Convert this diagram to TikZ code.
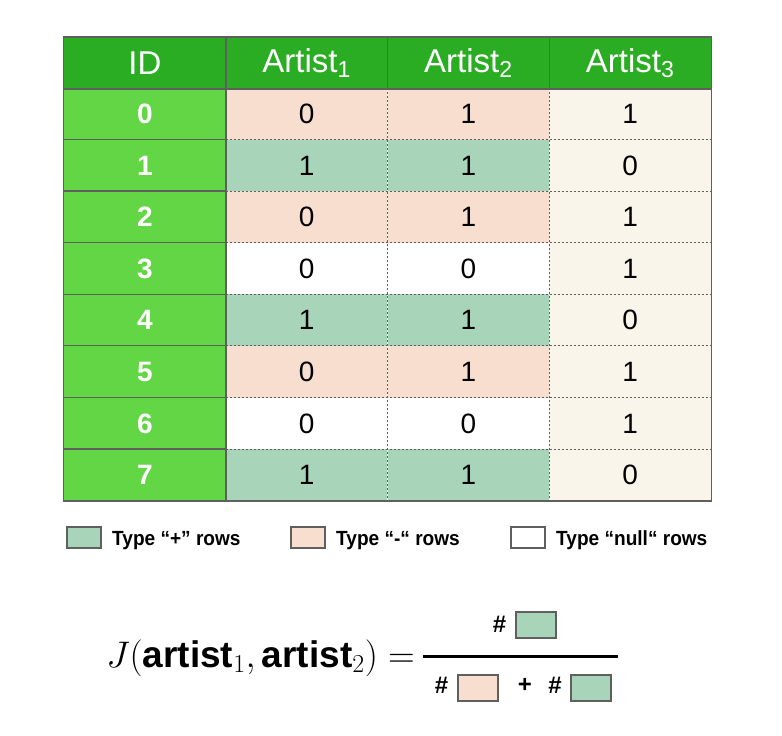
\documentclass[tikz,border=0pt]{standalone}
\usepackage{fix-cm}
\usepackage{fontspec}
\setmainfont{Liberation Sans}
\newfontfamily\legfont[FakeStretch=0.93]{Liberation Sans}
\usetikzlibrary{positioning}
\definecolor{headgreen}{RGB}{42,173,34}
\definecolor{idgreen}{RGB}{99,214,70}
\definecolor{plusrow}{RGB}{168,213,186}
\definecolor{minusrow}{RGB}{248,222,206}
\definecolor{nullrow}{RGB}{255,255,255}
\definecolor{creamcol}{RGB}{250,245,234}
\definecolor{gridgray}{RGB}{95,95,95}
\tikzset{
  cell/.style={minimum width=161.75pt,minimum height=51.6pt,inner sep=0pt,
    font=\fontsize{28}{30}\selectfont},
  head/.style={cell,fill=headgreen,text=white,font=\fontsize{33}{36}\selectfont},
  idcell/.style={cell,fill=idgreen,text=white,font=\fontsize{28}{30}\selectfont\bfseries},
  pcell/.style={cell,fill=plusrow},
  ncell/.style={cell,fill=minusrow},
  zcell/.style={cell,fill=nullrow},
  ccell/.style={cell,fill=creamcol},
  solidline/.style={draw=gridgray,line width=1.2pt},
  dashline/.style={draw=gridgray,line width=0.7pt,dash pattern=on 2pt off 2pt},
  legbox/.style={draw=gridgray,line width=2pt,minimum width=34pt,minimum height=21pt,inner sep=0pt},
  legtext/.style={font=\fontsize{20.5}{22}\selectfont\legfont\bfseries,anchor=base west,inner sep=0pt},
  hashbox/.style={draw=gridgray,line width=2pt,minimum width=40pt,minimum height=26pt,inner sep=0pt},
  hashtext/.style={font=\fontsize{24}{26}\selectfont\bfseries,inner sep=0pt}
}
\begin{document}
\begin{tikzpicture}[x=1pt,y=-1pt]
  \useasboundingbox (0,0) rectangle (782,736);
  % header
  \node[head] (h0) at (144.9,63) {ID};
  \node[head] (h1) at (306.6,63) {Artist\textsubscript{1}};
  \node[head] (h2) at (468.4,63) {Artist\textsubscript{2}};
  \node[head] (h3) at (630.1,63) {Artist\textsubscript{3}};
  % rows
  \node[idcell] (r0c0) at (144.9,113.8) {0};
  \node[ncell] (r0c1) at (306.6,113.8) {0};
  \node[ncell] (r0c2) at (468.4,113.8) {1};
  \node[ccell] (r0c3) at (630.1,113.8) {1};
  \node[idcell] (r1c0) at (144.9,165.4) {1};
  \node[pcell] (r1c1) at (306.6,165.4) {1};
  \node[pcell] (r1c2) at (468.4,165.4) {1};
  \node[ccell] (r1c3) at (630.1,165.4) {0};
  \node[idcell] (r2c0) at (144.9,217) {2};
  \node[ncell] (r2c1) at (306.6,217) {0};
  \node[ncell] (r2c2) at (468.4,217) {1};
  \node[ccell] (r2c3) at (630.1,217) {1};
  \node[idcell] (r3c0) at (144.9,268.6) {3};
  \node[zcell] (r3c1) at (306.6,268.6) {0};
  \node[zcell] (r3c2) at (468.4,268.6) {0};
  \node[ccell] (r3c3) at (630.1,268.6) {1};
  \node[idcell] (r4c0) at (144.9,320.2) {4};
  \node[pcell] (r4c1) at (306.6,320.2) {1};
  \node[pcell] (r4c2) at (468.4,320.2) {1};
  \node[ccell] (r4c3) at (630.1,320.2) {0};
  \node[idcell] (r5c0) at (144.9,371.8) {5};
  \node[ncell] (r5c1) at (306.6,371.8) {0};
  \node[ncell] (r5c2) at (468.4,371.8) {1};
  \node[ccell] (r5c3) at (630.1,371.8) {1};
  \node[idcell] (r6c0) at (144.9,423.4) {6};
  \node[zcell] (r6c1) at (306.6,423.4) {0};
  \node[zcell] (r6c2) at (468.4,423.4) {0};
  \node[ccell] (r6c3) at (630.1,423.4) {1};
  \node[idcell] (r7c0) at (144.9,475) {7};
  \node[pcell] (r7c1) at (306.6,475) {1};
  \node[pcell] (r7c2) at (468.4,475) {1};
  \node[ccell] (r7c3) at (630.1,475) {0};
  % grid
  \foreach \r in {1,...,7} {
    \draw[dashline] (r\r c1.north west) -- (r\r c3.north east);
    \draw[solidline] (r\r c0.north west) -- (r\r c0.north east);
  }
  \draw[dashline] (r0c1.north east) -- (r7c1.south east);
  \draw[dashline] (r0c2.north east) -- (r7c2.south east);
  \draw[solidline] (h0.north east) -- (r7c0.south east);
  \draw[solidline] (h1.north east) -- (h1.south east);
  \draw[solidline] (h2.north east) -- (h2.south east);
  \draw[solidline] (h0.south west) -- (h3.south east);
  \draw[solidline] (h0.north west) rectangle (r7c3.south east);
  % legend
  \node[legbox,fill=plusrow] (lb1) at (83.5,537) {};
  \node[legtext] (lt1) at (112,545) {Type “+” rows};
  \node[legbox,fill=minusrow] (lb2) at (307.5,537) {};
  \node[legtext] (lt2) at (336,545) {Type “-“ rows};
  \node[legbox,fill=nullrow] (lb3) at (527.5,537) {};
  \node[legtext] (lt3) at (556,545) {Type “null“ rows};
  % formula
  \node[anchor=base east,inner sep=0pt,font=\fontsize{37}{40}\selectfont] (jac) at (415,667)
    {$J(\textbf{artist}_1, \textbf{artist}_2) =$};
  \coordinate (fl) at (423,656);
  \coordinate (fr) at (618,656);
  \draw[line width=3pt] (fl) -- (fr);
  \node[hashtext] (nh) at (499.5,624) {\#};
  \node[hashbox,fill=plusrow] (nb) at (536,625) {};
  \node[hashtext] (dh1) at (441.5,685) {\#};
  \node[hashbox,fill=minusrow] (db1) at (478,687.5) {};
  \node[hashtext] (dplus) at (525,685) {+};
  \node[hashtext] (dh2) at (555,685) {\#};
  \node[hashbox,fill=plusrow] (db2) at (590.5,687.5) {};
\end{tikzpicture}
\end{document}
